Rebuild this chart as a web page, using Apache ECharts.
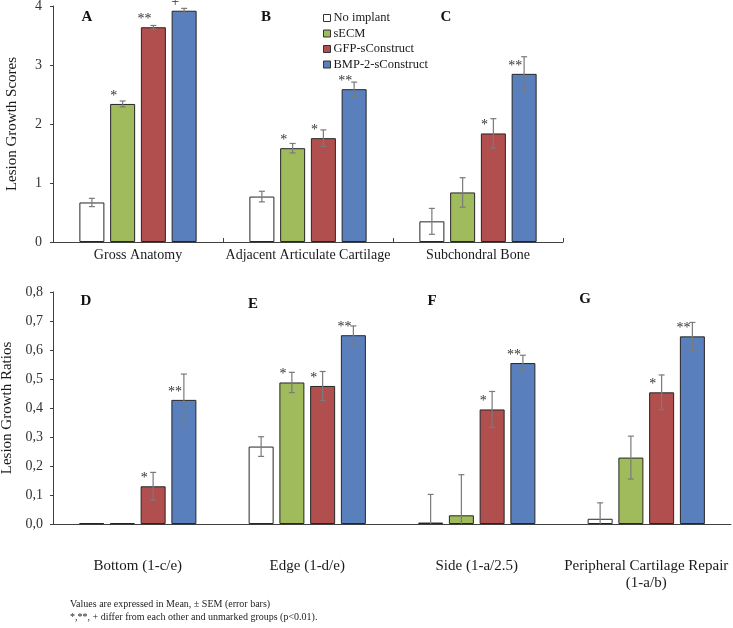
<!DOCTYPE html>
<html>
<head>
<meta charset="utf-8">
<script src="https://cdn.jsdelivr.net/npm/echarts@6/dist/echarts.min.js"></script>
<style>
html,body{margin:0;padding:0;background:#fff;}
#chart{width:733px;height:628px;}
</style>
</head>
<body>
<div id="chart"></div>
<script>
// ---------- data ----------
const seriesNames = ['No implant', 'sECM', 'GFP-sConstruct', 'BMP-2-sConstruct'];

// Top panel (A, B, C): Lesion Growth Scores
const topCategories = ['Gross Anatomy', 'Adjacent Articulate Cartilage', 'Subchondral Bone'];
const topNoImplant = [0.67, 0.77, 0.35];
const topNoImplantErr = [0.07, 0.09, 0.22];
const topSECM = [2.34, 1.59, 0.84];
const topSECMErr = [0.05, 0.08, 0.25];
const topGFP = [3.64, 1.76, 1.84];
const topGFPErr = [0.03, 0.14, 0.25];
const topBMP = [3.92, 2.59, 2.85];
const topBMPErr = [0.04, 0.12, 0.29];
const topNoImplantMarks = ['', '', ''];
const topSECMMarks = ['*', '*', ''];
const topGFPMarks = ['**', '*', '*'];
const topBMPMarks = ['+', '**', '**'];
const topTicks = [0, 1, 2, 3, 4];

// Bottom panel (D, E, F, G): Lesion Growth Ratios
const bottomCategories = ['Bottom (1-c/e)', 'Edge (1-d/e)', 'Side (1-a/2.5)', 'Peripheral Cartilage Repair\n(1-a/b)'];
const botNoImplant = [0.003, 0.267, 0.005, 0.018];
const botNoImplantErr = [0, 0.034, 0.097, 0.055];
const botSECM = [0.003, 0.488, 0.030, 0.229];
const botSECMErr = [0, 0.035, 0.14, 0.074];
const botGFP = [0.130, 0.476, 0.395, 0.454];
const botGFPErr = [0.048, 0.05, 0.062, 0.06];
const botBMP = [0.428, 0.651, 0.555, 0.647];
const botBMPErr = [0.089, 0.032, 0.027, 0.048];
const botNoImplantMarks = ['', '', '', ''];
const botSECMMarks = ['', '*', '', ''];
const botGFPMarks = ['*', '*', '*', '*'];
const botBMPMarks = ['**', '**', '**', '**'];
const bottomTicks = ['0,0', '0,1', '0,2', '0,3', '0,4', '0,5', '0,6', '0,7', '0,8'];

const panelLetters = ['A', 'B', 'C', 'D', 'E', 'F', 'G'];
const footnotes = ['Values are expressed in Mean, \u00b1 SEM (error bars)',
                   '*,**, + differ from each other and unmarked groups (p<0.01).'];

// ---------- style ----------
const FONT = "'Liberation Serif', 'Times New Roman', serif";
const colors = ['#ffffff', '#9fbb5c', '#b14f4e', '#5a7fbd'];
const BAR_W = 25;
const BAR_GAP = 0.23;
const STEP = BAR_W * (1 + BAR_GAP);
const ERR_COLOR = '#7a7a7a';
const TEXT_COLOR = '#1a1a1a';

const topVals = [topNoImplant, topSECM, topGFP, topBMP];
const topErrs = [topNoImplantErr, topSECMErr, topGFPErr, topBMPErr];
const topMarks = [topNoImplantMarks, topSECMMarks, topGFPMarks, topBMPMarks];
const botVals = [botNoImplant, botSECM, botGFP, botBMP];
const botErrs = [botNoImplantErr, botSECMErr, botGFPErr, botBMPErr];
const botMarks = [botNoImplantMarks, botSECMMarks, botGFPMarks, botBMPMarks];

function barSeries(gi, i, vals) {
  return {
    type: 'bar', name: seriesNames[i], xAxisIndex: gi, yAxisIndex: gi,
    data: vals, barWidth: BAR_W, barGap: (BAR_GAP * 100) + '%',
    itemStyle: { color: colors[i], borderColor: '#262626', borderWidth: 1 },
    silent: true, z: 2
  };
}

function errSeries(gi, i, vals, errs, marks) {
  return {
    type: 'custom', xAxisIndex: gi, yAxisIndex: gi, silent: true, z: 5,
    data: vals.map((v, k) => [k, v, errs[k]]),
    renderItem: function (params, api) {
      const k = api.value(0), v = api.value(1), e = api.value(2);
      const base = api.coord([k, v]);
      const x = base[0] + (i - 1.5) * STEP;
      const children = [];
      if (e > 0) {
        const yTop = api.coord([k, v + e])[1];
        const yBot = api.coord([k, Math.max(0, v - e)])[1];
        const ls = { stroke: ERR_COLOR, lineWidth: 1.2 };
        children.push({ type: 'line', shape: { x1: x, y1: yTop, x2: x, y2: yBot }, style: ls });
        children.push({ type: 'line', shape: { x1: x - 3, y1: yTop, x2: x + 3, y2: yTop }, style: ls });
        if (v - e > 0) children.push({ type: 'line', shape: { x1: x - 3, y1: yBot, x2: x + 3, y2: yBot }, style: ls });
      }
      const m = marks[params.dataIndex];
      if (m) {
        children.push({ type: 'text', style: {
          text: m, x: x - 9, y: base[1] - 1, align: 'center', verticalAlign: 'bottom',
          fill: '#333', font: '14px ' + FONT } });
      }
      return { type: 'group', children: children };
    }
  };
}

const series = [];
for (let i = 0; i < 4; i++) series.push(barSeries(0, i, topVals[i]));
for (let i = 0; i < 4; i++) series.push(barSeries(1, i, botVals[i]));
for (let i = 0; i < 4; i++) series.push(errSeries(0, i, topVals[i], topErrs[i], topMarks[i]));
for (let i = 0; i < 4; i++) series.push(errSeries(1, i, botVals[i], botErrs[i], botMarks[i]));

const letterPos = [[87, 17], [266, 17], [446, 17], [86, 301], [253, 304], [432, 301], [585, 299]];
const graphics = panelLetters.map((t, k) => ({
  type: 'text', x: letterPos[k][0], y: letterPos[k][1],
  style: { text: t, font: 'bold 15px ' + FONT, fill: '#111', align: 'center', verticalAlign: 'middle' }
}));
footnotes.forEach((t, k) => graphics.push({
  type: 'text', x: 70, y: 604 + k * 13,
  style: { text: t, font: '10px ' + FONT, fill: '#222', align: 'left', verticalAlign: 'middle' }
}));

const axisLineStyle = { color: '#404040', width: 1 };

const option = {
  animation: false,
  backgroundColor: '#fff',
  graphic: graphics,
  legend: {
    data: seriesNames, orient: 'vertical', left: 318, top: 6,
    itemWidth: 7, itemHeight: 7, itemGap: 1.5, icon: 'rect',
    itemStyle: { borderColor: '#333', borderWidth: 1 },
    textStyle: { fontFamily: FONT, fontSize: 12.5, color: TEXT_COLOR, lineHeight: 14, padding: [0, 0, 0, -2] },
    selectedMode: false
  },
  grid: [
    { left: 53, top: 6, width: 510, height: 236, containLabel: false, outerBoundsMode: 'none' },
    { left: 53, top: 292, width: 678, height: 232, containLabel: false, outerBoundsMode: 'none' }
  ],
  xAxis: [
    { type: 'category', gridIndex: 0, data: topCategories,
      axisLine: { lineStyle: axisLineStyle },
      axisTick: { show: true, inside: true, length: 4, alignWithLabel: false, lineStyle: axisLineStyle },
      axisLabel: { fontFamily: FONT, fontSize: 14, color: TEXT_COLOR, margin: 6, interval: 0 } },
    { type: 'category', gridIndex: 1, data: bottomCategories,
      axisLine: { lineStyle: axisLineStyle },
      axisTick: { show: false },
      axisLabel: { fontFamily: FONT, fontSize: 15, color: TEXT_COLOR, margin: 34, interval: 0, lineHeight: 17 } }
  ],
  yAxis: [
    { type: 'value', gridIndex: 0, min: topTicks[0], max: topTicks[topTicks.length - 1], interval: 1,
      name: 'Lesion Growth Scores', nameLocation: 'middle', nameGap: 33,
      nameTextStyle: { fontFamily: FONT, fontSize: 15, color: TEXT_COLOR },
      axisLine: { show: true, lineStyle: axisLineStyle },
      axisTick: { show: true, length: 3, lineStyle: axisLineStyle },
      splitLine: { show: false },
      axisLabel: { fontFamily: FONT, fontSize: 14, color: '#333', margin: 11 } },
    { type: 'value', gridIndex: 1, min: 0, max: 0.8, interval: 0.1,
      name: 'Lesion Growth Ratios', nameLocation: 'middle', nameGap: 33,
      nameTextStyle: { fontFamily: FONT, fontSize: 15, color: TEXT_COLOR },
      axisLine: { show: true, lineStyle: axisLineStyle },
      axisTick: { show: true, length: 3, lineStyle: axisLineStyle },
      splitLine: { show: false },
      axisLabel: { fontFamily: FONT, fontSize: 14, color: '#333', margin: 10,
        formatter: function (v) { return bottomTicks[Math.round(v * 10)]; } } }
  ],
  series: series
};

const chart = echarts.init(document.getElementById('chart'), null, { renderer: 'canvas' });
chart.setOption(option);
</script>
</body>
</html>
